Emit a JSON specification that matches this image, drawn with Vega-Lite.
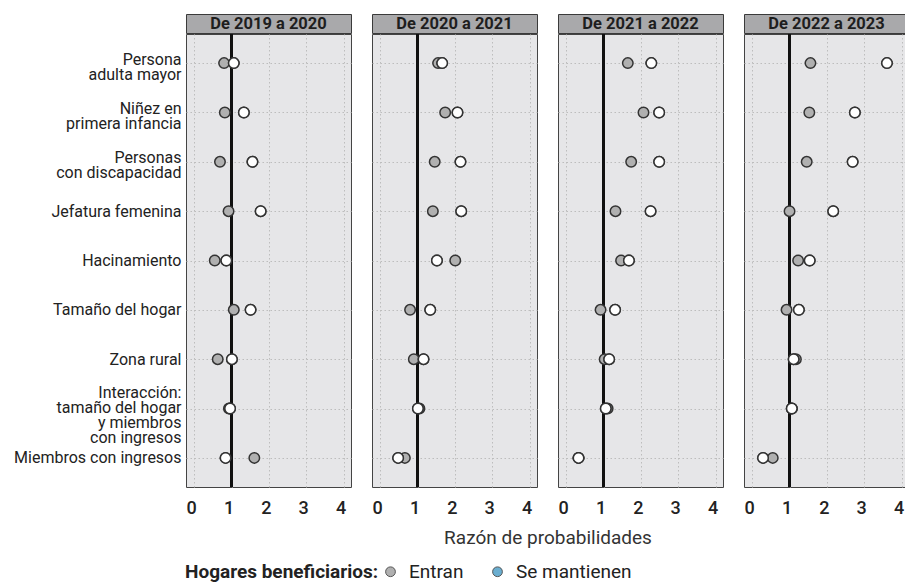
{
  "$schema": "https://vega.github.io/schema/vega-lite/v6.json",
  "padding": {"left": 13, "top": 13, "right": 1, "bottom": 1},
  "background": "white",
  "config": {
    "font": "Roboto",
    "axis": {"ticks": false, "tickSize": 0, "domain": false, "labelColor": "#222", "titleColor": "#333"},
    "legend": {"labelFont": "Roboto", "titleFont": "Roboto"}
  },
  "datasets": {
    "periods": [
      {"periodo": "De 2019 a 2020"},
      {"periodo": "De 2020 a 2021"},
      {"periodo": "De 2021 a 2022"},
      {"periodo": "De 2022 a 2023"}
    ],
    "d": [
      {"periodo": "De 2019 a 2020", "cat": "Persona \nadulta mayor", "tipo": "Entran", "valor": 0.80},
      {"periodo": "De 2019 a 2020", "cat": "Persona \nadulta mayor", "tipo": "Se mantienen", "valor": 1.06},
      {"periodo": "De 2019 a 2020", "cat": "Niñez en\nprimera infancia", "tipo": "Entran", "valor": 0.82},
      {"periodo": "De 2019 a 2020", "cat": "Niñez en\nprimera infancia", "tipo": "Se mantienen", "valor": 1.33},
      {"periodo": "De 2019 a 2020", "cat": "Personas \ncon discapacidad", "tipo": "Entran", "valor": 0.69},
      {"periodo": "De 2019 a 2020", "cat": "Personas \ncon discapacidad", "tipo": "Se mantienen", "valor": 1.56},
      {"periodo": "De 2019 a 2020", "cat": "Jefatura femenina", "tipo": "Entran", "valor": 0.92},
      {"periodo": "De 2019 a 2020", "cat": "Jefatura femenina", "tipo": "Se mantienen", "valor": 1.78},
      {"periodo": "De 2019 a 2020", "cat": "Hacinamiento", "tipo": "Entran", "valor": 0.55},
      {"periodo": "De 2019 a 2020", "cat": "Hacinamiento", "tipo": "Se mantienen", "valor": 0.86},
      {"periodo": "De 2019 a 2020", "cat": "Tamaño del hogar", "tipo": "Entran", "valor": 1.06},
      {"periodo": "De 2019 a 2020", "cat": "Tamaño del hogar", "tipo": "Se mantienen", "valor": 1.51},
      {"periodo": "De 2019 a 2020", "cat": "Zona rural", "tipo": "Entran", "valor": 0.63},
      {"periodo": "De 2019 a 2020", "cat": "Zona rural", "tipo": "Se mantienen", "valor": 1.01},
      {"periodo": "De 2019 a 2020", "cat": "Interacción:\ntamaño del hogar\ny miembros \ncon ingresos", "tipo": "Entran", "valor": 0.93},
      {"periodo": "De 2019 a 2020", "cat": "Interacción:\ntamaño del hogar\ny miembros \ncon ingresos", "tipo": "Se mantienen", "valor": 0.96},
      {"periodo": "De 2019 a 2020", "cat": "Miembros con ingresos", "tipo": "Entran", "valor": 1.61},
      {"periodo": "De 2019 a 2020", "cat": "Miembros con ingresos", "tipo": "Se mantienen", "valor": 0.84},

      {"periodo": "De 2020 a 2021", "cat": "Persona \nadulta mayor", "tipo": "Entran", "valor": 1.55},
      {"periodo": "De 2020 a 2021", "cat": "Persona \nadulta mayor", "tipo": "Se mantienen", "valor": 1.66},
      {"periodo": "De 2020 a 2021", "cat": "Niñez en\nprimera infancia", "tipo": "Entran", "valor": 1.74},
      {"periodo": "De 2020 a 2021", "cat": "Niñez en\nprimera infancia", "tipo": "Se mantienen", "valor": 2.07},
      {"periodo": "De 2020 a 2021", "cat": "Personas \ncon discapacidad", "tipo": "Entran", "valor": 1.46},
      {"periodo": "De 2020 a 2021", "cat": "Personas \ncon discapacidad", "tipo": "Se mantienen", "valor": 2.15},
      {"periodo": "De 2020 a 2021", "cat": "Jefatura femenina", "tipo": "Entran", "valor": 1.41},
      {"periodo": "De 2020 a 2021", "cat": "Jefatura femenina", "tipo": "Se mantienen", "valor": 2.17},
      {"periodo": "De 2020 a 2021", "cat": "Hacinamiento", "tipo": "Entran", "valor": 2.01},
      {"periodo": "De 2020 a 2021", "cat": "Hacinamiento", "tipo": "Se mantienen", "valor": 1.52},
      {"periodo": "De 2020 a 2021", "cat": "Tamaño del hogar", "tipo": "Entran", "valor": 0.80},
      {"periodo": "De 2020 a 2021", "cat": "Tamaño del hogar", "tipo": "Se mantienen", "valor": 1.34},
      {"periodo": "De 2020 a 2021", "cat": "Zona rural", "tipo": "Entran", "valor": 0.90},
      {"periodo": "De 2020 a 2021", "cat": "Zona rural", "tipo": "Se mantienen", "valor": 1.16},
      {"periodo": "De 2020 a 2021", "cat": "Interacción:\ntamaño del hogar\ny miembros \ncon ingresos", "tipo": "Entran", "valor": 1.05},
      {"periodo": "De 2020 a 2021", "cat": "Interacción:\ntamaño del hogar\ny miembros \ncon ingresos", "tipo": "Se mantienen", "valor": 1.01},
      {"periodo": "De 2020 a 2021", "cat": "Miembros con ingresos", "tipo": "Entran", "valor": 0.66},
      {"periodo": "De 2020 a 2021", "cat": "Miembros con ingresos", "tipo": "Se mantienen", "valor": 0.48},

      {"periodo": "De 2021 a 2022", "cat": "Persona \nadulta mayor", "tipo": "Entran", "valor": 1.65},
      {"periodo": "De 2021 a 2022", "cat": "Persona \nadulta mayor", "tipo": "Se mantienen", "valor": 2.28},
      {"periodo": "De 2021 a 2022", "cat": "Niñez en\nprimera infancia", "tipo": "Entran", "valor": 2.07},
      {"periodo": "De 2021 a 2022", "cat": "Niñez en\nprimera infancia", "tipo": "Se mantienen", "valor": 2.49},
      {"periodo": "De 2021 a 2022", "cat": "Personas \ncon discapacidad", "tipo": "Entran", "valor": 1.74},
      {"periodo": "De 2021 a 2022", "cat": "Personas \ncon discapacidad", "tipo": "Se mantienen", "valor": 2.49},
      {"periodo": "De 2021 a 2022", "cat": "Jefatura femenina", "tipo": "Entran", "valor": 1.32},
      {"periodo": "De 2021 a 2022", "cat": "Jefatura femenina", "tipo": "Se mantienen", "valor": 2.26},
      {"periodo": "De 2021 a 2022", "cat": "Hacinamiento", "tipo": "Entran", "valor": 1.47},
      {"periodo": "De 2021 a 2022", "cat": "Hacinamiento", "tipo": "Se mantienen", "valor": 1.68},
      {"periodo": "De 2021 a 2022", "cat": "Tamaño del hogar", "tipo": "Entran", "valor": 0.92},
      {"periodo": "De 2021 a 2022", "cat": "Tamaño del hogar", "tipo": "Se mantienen", "valor": 1.31},
      {"periodo": "De 2021 a 2022", "cat": "Zona rural", "tipo": "Entran", "valor": 1.03},
      {"periodo": "De 2021 a 2022", "cat": "Zona rural", "tipo": "Se mantienen", "valor": 1.15},
      {"periodo": "De 2021 a 2022", "cat": "Interacción:\ntamaño del hogar\ny miembros \ncon ingresos", "tipo": "Entran", "valor": 1.11},
      {"periodo": "De 2021 a 2022", "cat": "Interacción:\ntamaño del hogar\ny miembros \ncon ingresos", "tipo": "Se mantienen", "valor": 1.06},
      {"periodo": "De 2021 a 2022", "cat": "Miembros con ingresos", "tipo": "Entran", "valor": 0.33},
      {"periodo": "De 2021 a 2022", "cat": "Miembros con ingresos", "tipo": "Se mantienen", "valor": 0.33},

      {"periodo": "De 2022 a 2023", "cat": "Persona \nadulta mayor", "tipo": "Entran", "valor": 1.56},
      {"periodo": "De 2022 a 2023", "cat": "Persona \nadulta mayor", "tipo": "Se mantienen", "valor": 3.61},
      {"periodo": "De 2022 a 2023", "cat": "Niñez en\nprimera infancia", "tipo": "Entran", "valor": 1.53},
      {"periodo": "De 2022 a 2023", "cat": "Niñez en\nprimera infancia", "tipo": "Se mantienen", "valor": 2.75},
      {"periodo": "De 2022 a 2023", "cat": "Personas \ncon discapacidad", "tipo": "Entran", "valor": 1.46},
      {"periodo": "De 2022 a 2023", "cat": "Personas \ncon discapacidad", "tipo": "Se mantienen", "valor": 2.69},
      {"periodo": "De 2022 a 2023", "cat": "Jefatura femenina", "tipo": "Entran", "valor": 1.00},
      {"periodo": "De 2022 a 2023", "cat": "Jefatura femenina", "tipo": "Se mantienen", "valor": 2.17},
      {"periodo": "De 2022 a 2023", "cat": "Hacinamiento", "tipo": "Entran", "valor": 1.23},
      {"periodo": "De 2022 a 2023", "cat": "Hacinamiento", "tipo": "Se mantienen", "valor": 1.54},
      {"periodo": "De 2022 a 2023", "cat": "Tamaño del hogar", "tipo": "Entran", "valor": 0.92},
      {"periodo": "De 2022 a 2023", "cat": "Tamaño del hogar", "tipo": "Se mantienen", "valor": 1.25},
      {"periodo": "De 2022 a 2023", "cat": "Zona rural", "tipo": "Entran", "valor": 1.17},
      {"periodo": "De 2022 a 2023", "cat": "Zona rural", "tipo": "Se mantienen", "valor": 1.11},
      {"periodo": "De 2022 a 2023", "cat": "Interacción:\ntamaño del hogar\ny miembros \ncon ingresos", "tipo": "Entran", "valor": 1.06},
      {"periodo": "De 2022 a 2023", "cat": "Interacción:\ntamaño del hogar\ny miembros \ncon ingresos", "tipo": "Se mantienen", "valor": 1.06},
      {"periodo": "De 2022 a 2023", "cat": "Miembros con ingresos", "tipo": "Se mantienen", "valor": 0.29},
      {"periodo": "De 2022 a 2023", "cat": "Miembros con ingresos", "tipo": "Entran", "valor": 0.55}
    ]
  },
  "spacing": -4,
  "vconcat": [
    {
      "data": {"name": "periods"},
      "spacing": 19,
      "facet": {"column": {"field": "periodo", "type": "nominal", "header": null}},
      "spec": {
        "width": 165,
        "height": 19,
        "view": {"fill": "#a9a9ab", "stroke": "#3a3a3a", "strokeWidth": 1},
        "mark": {"type": "text", "fontWeight": "bold", "fontSize": 16.5, "color": "#1e1e1e", "font": "Roboto"},
        "encoding": {
          "text": {"field": "periodo", "type": "nominal"},
          "y": {
            "datum": "Miembros con ingresos",
            "type": "nominal",
            "axis": {"title": null, "grid": false, "labelColor": "transparent", "labelFontSize": 16, "labelPadding": 4, "labelLimit": 400}
          }
        }
      }
    },
    {
      "data": {"name": "d"},
      "spacing": 19,
      "facet": {
        "column": {
          "field": "periodo",
          "type": "nominal",
          "header": {"labels": false, "title": "Razón de probabilidades", "titleOrient": "bottom", "titleFontSize": 19, "titleFontWeight": "normal", "titleColor": "#333", "titleFont": "Roboto", "titlePadding": 2, "titleLimit": 0}
        }
      },
      "spec": {
        "width": 165,
        "height": 453,
        "view": {"fill": "#e6e6e8", "stroke": "#444", "strokeWidth": 1},
        "encoding": {
          "x": {
            "field": "valor",
            "type": "quantitative",
            "scale": {"domain": [-0.22, 4.2], "nice": false, "zero": false},
            "axis": {"title": null, "values": [0, 1, 2, 3, 4], "grid": true, "gridDash": [1.5, 2.5], "gridColor": "#bdbdbd", "labelFontSize": 18, "labelFontWeight": 500, "labelPadding": 10, "labelOffset": -3}
          },
          "y": {
            "field": "cat",
            "type": "nominal",
            "sort": null,
            "scale": {"type": "point", "padding": 0.59},
            "axis": {
              "title": null, "grid": true, "gridDash": [1.5, 2.5], "gridColor": "#bdbdbd",
              "labelFontSize": 16, "labelPadding": 4, "labelLimit": 400, "labelLineHeight": 15,
              "labelExpr": "split(datum.label, '\\n')",
              "labelOffset": {
                "condition": [
                  {"test": "indexof(datum.label, 'Interacci') === 0", "value": -16},
                  {"test": "indexof(datum.label, '\\n') > 0", "value": -4}
                ],
                "value": 0
              }
            }
          }
        },
        "layer": [
          {
            "mark": {"type": "rule", "color": "#111", "strokeWidth": 2},
            "encoding": {"x": {"datum": 1, "type": "quantitative"}, "y": null}
          },
          {
            "mark": {"type": "point", "shape": "circle", "filled": true, "opacity": 1, "size": 110, "stroke": "#333", "strokeWidth": 1.5},
            "encoding": {
              "color": {
                "field": "tipo",
                "type": "nominal",
                "scale": {"domain": ["Entran", "Se mantienen"], "range": ["#b0b0b0", "#6aaed0"]},
                "legend": {
                  "title": "Hogares beneficiarios:",
                  "orient": "none",
                  "legendX": -1,
                  "legendY": 548,
                  "direction": "horizontal",
                  "titleOrient": "left",
                  "titleFontSize": 19,
                  "titleFontWeight": "bold",
                  "titleColor": "#222",
                  "titlePadding": 2,
                  "titleLimit": 0,
                  "labelFontSize": 19,
                  "labelColor": "#222",
                  "labelLimit": 0,
                  "symbolSize": 95,
                  "symbolStrokeWidth": 1,
                  "symbolStrokeColor": "#555",
                  "symbolOpacity": 1,
                  "columnPadding": 24,
                  "labelOffset": 9
                }
              }
            }
          },
          {
            "transform": [{"filter": "datum.tipo === 'Se mantienen'"}],
            "mark": {"type": "point", "shape": "circle", "filled": true, "opacity": 1, "size": 110, "stroke": "#333", "strokeWidth": 1.5, "fill": "#ffffff"}
          }
        ]
      }
    }
  ]
}
